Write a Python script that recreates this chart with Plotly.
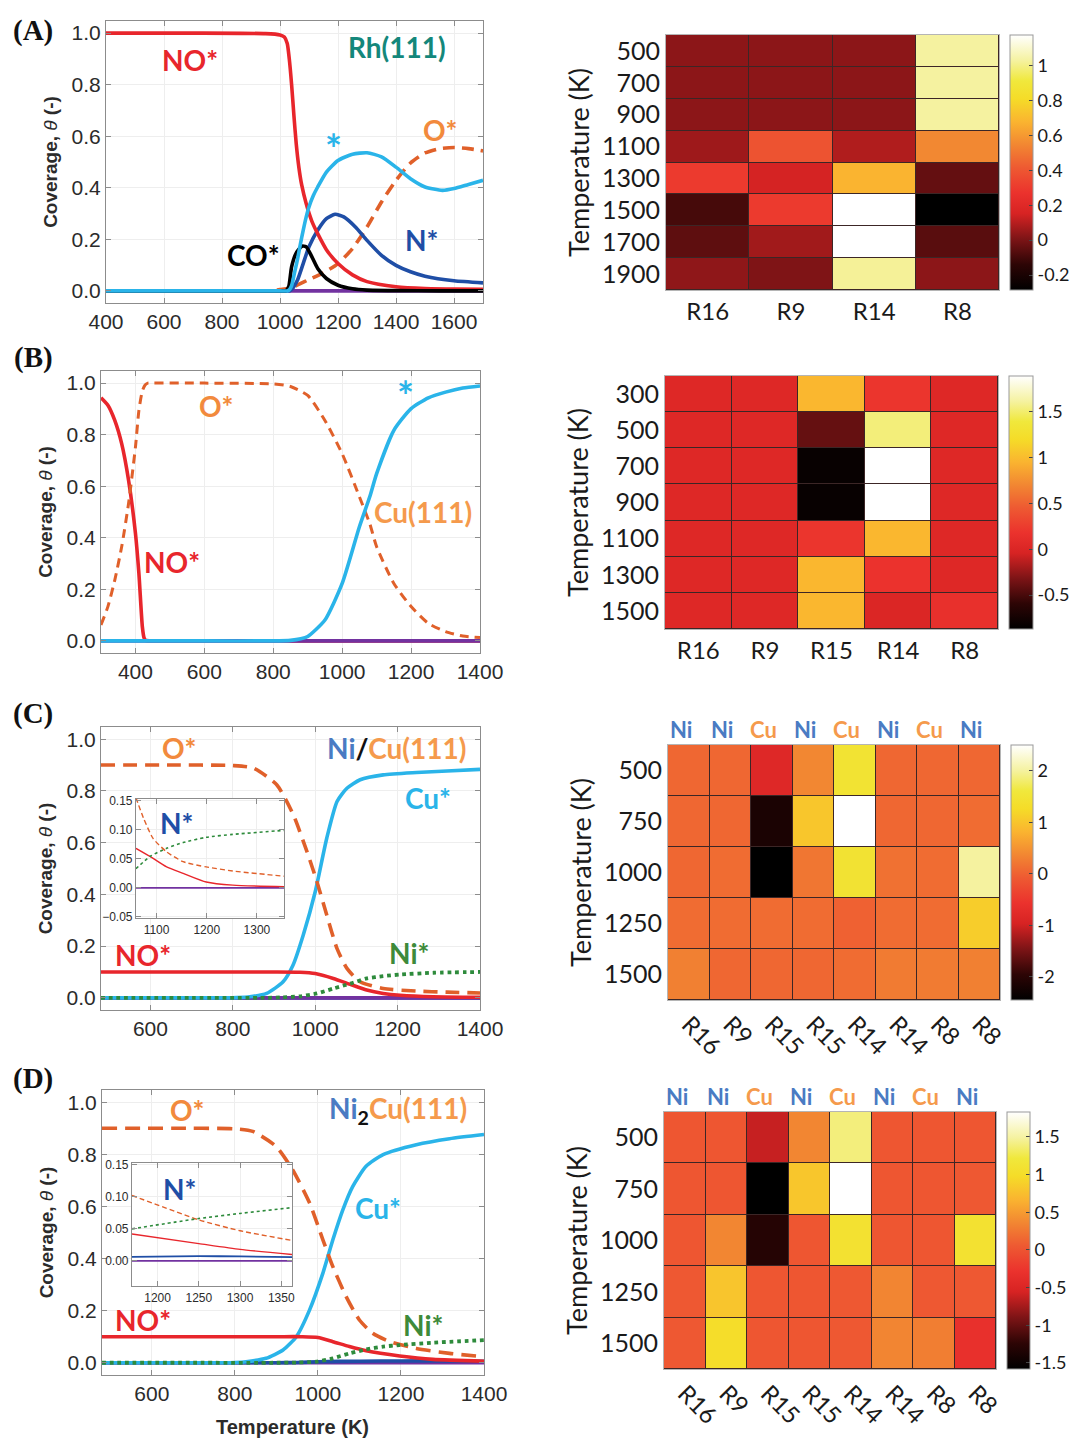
import plotly.graph_objects as go

W, H = 1070, 1438

# ---------------- DATA ----------------
# Panel A : Rh(111)
A_NO_T = [400, 700, 950, 1000, 1015, 1025, 1032, 1040, 1048, 1056, 1065, 1075, 1090, 1110, 1130, 1160, 1200, 1250, 1300, 1400, 1500, 1600, 1700]
A_NO = [1.0, 1.0, 0.998, 0.993, 0.985, 0.96, 0.9, 0.8, 0.68, 0.57, 0.48, 0.41, 0.34, 0.27, 0.222, 0.16, 0.106, 0.062, 0.036, 0.016, 0.009, 0.007, 0.006]
A_FREE_T = [400, 700, 1000, 1025, 1032, 1040, 1050, 1060, 1070, 1080, 1090, 1100, 1115, 1130, 1160, 1200, 1250, 1300, 1350, 1400, 1450, 1500, 1560, 1600, 1650, 1700]
A_FREE = [0, 0, 0, 0, 0.004, 0.02, 0.07, 0.12, 0.18, 0.235, 0.285, 0.326, 0.37, 0.403, 0.461, 0.506, 0.53, 0.536, 0.52, 0.48, 0.435, 0.403, 0.39, 0.397, 0.413, 0.429]
A_N_T = [400, 700, 1000, 1030, 1037, 1045, 1060, 1080, 1100, 1130, 1160, 1190, 1220, 1260, 1300, 1350, 1400, 1450, 1500, 1600, 1700]
A_N = [0, 0, 0, 0, 0.003, 0.012, 0.041, 0.106, 0.171, 0.235, 0.28, 0.297, 0.287, 0.248, 0.196, 0.138, 0.099, 0.074, 0.057, 0.039, 0.031]
A_CO_T = [400, 700, 1000, 1020, 1030, 1040, 1055, 1075, 1090, 1110, 1130, 1160, 1200, 1250, 1300, 1400, 1550, 1700]
A_CO = [0, 0, 0, 0, 0.016, 0.093, 0.145, 0.173, 0.171, 0.132, 0.087, 0.048, 0.022, 0.008, 0.003, 0.001, 0.0, 0.0]
A_O_T = [400, 700, 950, 980, 1000, 1040, 1100, 1150, 1200, 1250, 1300, 1350, 1400, 1450, 1500, 1550, 1600, 1650, 1700]
A_O = [0, 0, 0, 0.001, 0.005, 0.013, 0.044, 0.07, 0.106, 0.164, 0.248, 0.345, 0.429, 0.496, 0.535, 0.552, 0.556, 0.552, 0.543]
A_P_T = [400, 1700]
A_P = [0, 0]

# Panel B : Cu(111)
B_NO_T = [300, 320, 340, 360, 380, 400, 410, 420, 425, 430, 440, 500, 800, 1100, 1400]
B_NO = [0.943, 0.914, 0.855, 0.765, 0.623, 0.417, 0.262, 0.055, 0.012, 0.002, 0, 0, 0, 0, 0]
B_O_T = [300, 320, 340, 360, 380, 400, 410, 420, 428, 436, 450, 600, 800, 850, 900, 950, 1000, 1050, 1080, 1100, 1150, 1200, 1250, 1300, 1350, 1400]
B_O = [0.062, 0.133, 0.236, 0.365, 0.533, 0.752, 0.894, 0.97, 0.993, 1.0, 1.0, 1.0, 0.997, 0.987, 0.952, 0.855, 0.726, 0.559, 0.455, 0.365, 0.223, 0.133, 0.068, 0.036, 0.019, 0.013]
B_FREE_T = [300, 600, 800, 850, 880, 900, 950, 1000, 1050, 1080, 1100, 1150, 1200, 1250, 1300, 1350, 1400]
B_FREE = [0, 0, 0, 0.002, 0.008, 0.017, 0.081, 0.223, 0.443, 0.559, 0.649, 0.817, 0.901, 0.943, 0.965, 0.981, 0.989]
B_P_T = [300, 1400]
B_P = [0, 0]

# Panel C : Ni/Cu(111)
C_O_T = [480, 650, 800, 850, 907, 947, 980, 1004, 1028, 1053, 1077, 1109, 1165, 1246, 1320, 1400]
C_O = [0.9, 0.9, 0.898, 0.888, 0.823, 0.707, 0.565, 0.45, 0.32, 0.19, 0.114, 0.062, 0.036, 0.026, 0.022, 0.019]
C_CU_T = [480, 650, 780, 810, 841, 882, 922, 946, 971, 1000, 1028, 1053, 1077, 1109, 1165, 1246, 1320, 1400]
C_CU = [0, 0, 0, 0.001, 0.004, 0.017, 0.062, 0.126, 0.243, 0.41, 0.617, 0.759, 0.81, 0.843, 0.862, 0.871, 0.877, 0.883]
C_NO_T = [480, 700, 900, 963, 1000, 1044, 1085, 1125, 1165, 1206, 1287, 1400]
C_NO = [0.1, 0.1, 0.1, 0.099, 0.094, 0.075, 0.052, 0.03, 0.017, 0.01, 0.004, 0.002]
C_NI_T = [480, 700, 880, 920, 963, 1004, 1044, 1085, 1125, 1165, 1206, 1287, 1400]
C_NI = [0, 0, 0, 0.002, 0.006, 0.017, 0.036, 0.055, 0.075, 0.084, 0.09, 0.097, 0.1]
C_N_T = [480, 1400]
C_N = [0, 0]
C_P_T = [480, 1400]
C_P = [0, 0]
# inset C
CI_O_T = [1059, 1074, 1093, 1120, 1153, 1199, 1252, 1354]
CI_O = [0.155, 0.12, 0.085, 0.062, 0.045, 0.036, 0.029, 0.02]
CI_NO_T = [1059, 1087, 1120, 1153, 1199, 1252, 1354]
CI_NO = [0.068, 0.054, 0.036, 0.025, 0.01, 0.0046, 0.002]
CI_NI_T = [1059, 1087, 1120, 1153, 1199, 1252, 1354]
CI_NI = [0.033, 0.054, 0.068, 0.078, 0.087, 0.092, 0.099]
CI_P_T = [1059, 1354]
CI_P = [0, 0]

# Panel D : Ni2Cu(111)
D_O_T = [480, 650, 800, 843, 899, 939, 980, 1012, 1036, 1068, 1100, 1132, 1173, 1237, 1317, 1400]
D_O = [0.9, 0.9, 0.898, 0.888, 0.831, 0.741, 0.613, 0.472, 0.369, 0.254, 0.164, 0.113, 0.081, 0.055, 0.036, 0.023]
D_CU_T = [480, 650, 770, 800, 827, 875, 916, 948, 980, 1012, 1036, 1060, 1084, 1116, 1157, 1237, 1317, 1400]
D_CU = [0, 0, 0, 0.001, 0.004, 0.017, 0.049, 0.1, 0.203, 0.344, 0.472, 0.587, 0.677, 0.754, 0.799, 0.837, 0.86, 0.876]
D_NO_T = [480, 700, 900, 960, 1000, 1036, 1076, 1116, 1197, 1277, 1400]
D_NO = [0.1, 0.1, 0.1, 0.1, 0.097, 0.081, 0.062, 0.046, 0.026, 0.013, 0.006]
D_NI_T = [480, 700, 900, 950, 996, 1036, 1076, 1116, 1157, 1197, 1277, 1400]
D_NI = [0, 0, 0, 0.001, 0.004, 0.017, 0.036, 0.051, 0.062, 0.068, 0.077, 0.087]
D_N_T = [480, 700, 900, 950, 1000, 1100, 1200, 1300, 1400]
D_N = [0, 0, 0, 0.001, 0.004, 0.006, 0.007, 0.007, 0.006]
D_P_T = [480, 1400]
D_P = [0, 0]
# inset D
DI_O_T = [1169, 1250, 1300, 1363]
DI_O = [0.102, 0.064, 0.047, 0.032]
DI_NI_T = [1169, 1250, 1300, 1363]
DI_NI = [0.05, 0.066, 0.074, 0.083]
DI_NO_T = [1169, 1250, 1300, 1363]
DI_NO = [0.042, 0.027, 0.018, 0.01]
DI_N_T = [1169, 1250, 1300, 1363]
DI_N = [0.0065, 0.0075, 0.007, 0.006]
DI_P_T = [1169, 1363]
DI_P = [0.0, 0.0]

# Heatmaps
HA_ROWS = ["500", "700", "900", "1100", "1300", "1500", "1700", "1900"]
HA_COLS = ["R16", "R9", "R14", "R8"]
HA_Z = [
    [0.03, 0.03, 0.03, 1.03],
    [0.03, 0.03, 0.03, 1.03],
    [0.03, 0.03, 0.03, 1.03],
    [0.06, 0.39, 0.09, 0.55],
    [0.30, 0.15, 0.68, -0.04],
    [-0.095, 0.30, 1.18, -0.29],
    [-0.05, 0.065, 1.18, -0.06],
    [0.035, 0.01, 1.02, 0.03],
]
HA_RANGE = [-0.286, 1.176]
HA_TICKS = [-0.2, 0, 0.2, 0.4, 0.6, 0.8, 1]

HB_ROWS = ["300", "500", "700", "900", "1100", "1300", "1500"]
HB_COLS = ["R16", "R9", "R15", "R14", "R8"]
HB_Z = [
    [0.03, 0.03, 0.97, 0.2, 0.03],
    [0.03, 0.03, -0.4, 1.53, 0.03],
    [0.03, 0.03, -0.82, 1.89, 0.03],
    [0.03, 0.03, -0.82, 1.89, 0.03],
    [0.03, 0.03, 0.2, 0.97, 0.03],
    [0.03, 0.03, 0.97, 0.18, 0.03],
    [0.03, 0.03, 0.97, 0.0, 0.15],
]
HB_RANGE = [-0.87, 1.89]
HB_TICKS = [-0.5, 0, 0.5, 1, 1.5]

HC_ROWS = ["500", "750", "1000", "1250", "1500"]
HC_COLS = ["R16", "R9", "R15", "R15", "R14", "R14", "R8", "R8"]
HC_TOP = ["Ni", "Ni", "Cu", "Ni", "Cu", "Ni", "Cu", "Ni"]
HC_Z = [
    [0.05, 0.05, -0.82, 0.37, 1.46, 0.05, 0.05, 0.05],
    [0.05, 0.05, -2.15, 1.02, 2.5, 0.05, 0.05, 0.1],
    [0.05, 0.1, -2.45, 0.2, 1.45, 0.15, 0.1, 2.0],
    [0.1, 0.1, 0.1, 0.1, 0.0, 0.1, 0.1, 1.1],
    [0.3, 0.05, 0.05, 0.05, 0.1, 0.25, 0.25, 0.3],
]
HC_RANGE = [-2.45, 2.5]
HC_TICKS = [-2, -1, 0, 1, 2]

HD_ROWS = ["500", "750", "1000", "1250", "1500"]
HD_COLS = ["R16", "R9", "R15", "R15", "R14", "R14", "R8", "R8"]
HD_TOP = ["Ni", "Ni", "Cu", "Ni", "Cu", "Ni", "Cu", "Ni"]
HD_Z = [
    [0.02, 0.02, -0.62, 0.36, 1.39, 0.02, 0.02, 0.02],
    [0.02, 0.02, -1.58, 0.81, 1.83, 0.02, 0.02, 0.04],
    [0.02, 0.36, -1.3, 0.02, 1.08, 0.02, 0.02, 1.08],
    [0.04, 0.8, 0.02, 0.02, 0.04, 0.35, 0.04, 0.04],
    [0.04, 1.0, 0.02, 0.02, 0.04, 0.35, 0.3, -0.32],
]
HD_RANGE = [-1.58, 1.83]
HD_TICKS = [-1.5, -1, -0.5, 0, 0.5, 1, 1.5]

# ---------------- STYLE ----------------
RED = "#e8262c"
ORD = "#e0602a"
LBLUE = "#2ab4e9"
DBLUE = "#1f4ea6"
GREEN = "#2e8b3c"
PURPLE = "#7232a0"
LBL_O = "#f28a3d"
LBL_CU = "#f59a4c"
LBL_NI = "#4a7bc3"
TEAL = "#14877b"
LBL_GREEN = "#3e8a3a"

CS = [[0.0, "rgb(0,0,0)"], [0.1, "rgb(45,5,5)"], [0.2, "rgb(125,20,22)"], [0.3, "rgb(215,35,35)"],
      [0.38, "rgb(235,50,45)"], [0.48, "rgb(238,90,50)"], [0.57, "rgb(242,135,50)"],
      [0.66, "rgb(250,180,48)"], [0.75, "rgb(245,220,40)"], [0.82, "rgb(240,232,60)"],
      [0.9, "rgb(245,242,160)"], [1.0, "rgb(255,255,255)"]]

ANN_FONT = "Lato"
TICK_FONT = "Liberation Sans"
LW = 3.6


def dx(a, b):
    return [a / W, b / W]


def dy(top, bottom):
    return [1 - bottom / H, 1 - top / H]


fig = go.Figure()


def add_line(T, v, color, ax, width=LW, dash="solid"):
    fig.add_trace(go.Scatter(x=T, y=v, mode="lines",
                             line=dict(color=color, width=width, dash=dash, shape="spline", smoothing=0.6),
                             xaxis="x" + ax, yaxis="y" + ax, hoverinfo="skip", showlegend=False))


def add_heat(z, ax, ca):
    fig.add_trace(go.Heatmap(z=z, x=list(range(len(z[0]))), y=list(range(len(z))),
                             coloraxis=ca, xgap=1, ygap=1, xaxis="x" + ax, yaxis="y" + ax,
                             hoverinfo="skip"))


# Panel A line (axis 1)
add_line(A_P_T, A_P, PURPLE, "")
add_line(A_O_T, A_O, ORD, "", dash="12px,7px")
add_line(A_N_T, A_N, DBLUE, "")
add_line(A_NO_T, A_NO, RED, "")
add_line(A_CO_T, A_CO, "#000000", "")
add_line(A_FREE_T, A_FREE, LBLUE, "")
# Panel A heat (axis 2)
add_heat(HA_Z, "2", "coloraxis")
# Panel B line (axis 3)
add_line(B_NO_T, B_NO, RED, "3")
add_line(B_P_T, B_P, PURPLE, "3")
add_line(B_O_T, B_O, ORD, "3", width=3.0, dash="9px,6px")
add_line(B_FREE_T, B_FREE, LBLUE, "3")
# Panel B heat (axis 4)
add_heat(HB_Z, "4", "coloraxis2")
# Panel C line (axis 5)
add_line(C_N_T, C_N, DBLUE, "5")
add_line(C_P_T, C_P, PURPLE, "5")
add_line(C_CU_T, C_CU, LBLUE, "5")
add_line(C_NO_T, C_NO, RED, "5")
add_line(C_O_T, C_O, ORD, "5", dash="14px,8px")
add_line(C_NI_T, C_NI, GREEN, "5", width=3.8, dash="dot")
# inset C (axis 6)
add_line(CI_P_T, CI_P, PURPLE, "6", width=1.8)
add_line(CI_NO_T, CI_NO, RED, "6", width=1.4)
add_line(CI_O_T, CI_O, ORD, "6", width=1.4, dash="5px,3px")
add_line(CI_NI_T, CI_NI, GREEN, "6", width=1.6, dash="dot")
# Panel C heat (axis 7)
add_heat(HC_Z, "7", "coloraxis3")
# Panel D line (axis 8)
add_line(D_P_T, D_P, PURPLE, "8")
add_line(D_N_T, D_N, DBLUE, "8")
add_line(D_CU_T, D_CU, LBLUE, "8")
add_line(D_NO_T, D_NO, RED, "8")
add_line(D_O_T, D_O, ORD, "8", dash="15px,8px")
add_line(D_NI_T, D_NI, GREEN, "8", width=3.8, dash="dot")
# inset D (axis 9)
add_line(DI_P_T, DI_P, PURPLE, "9", width=1.8)
add_line(DI_N_T, DI_N, DBLUE, "9", width=1.8)
add_line(DI_NO_T, DI_NO, RED, "9", width=1.4)
add_line(DI_O_T, DI_O, ORD, "9", width=1.4, dash="5px,3px")
add_line(DI_NI_T, DI_NI, GREEN, "9", width=1.6, dash="dot")
# Panel D heat (axis 10)
add_heat(HD_Z, "10", "coloraxis4")


def line_x(domain, rng, tickvals, size=21):
    return dict(domain=domain, range=rng, tickvals=tickvals, showline=True, linecolor="#8c8c8c",
                linewidth=1.2, mirror="ticks", ticks="inside", ticklen=5, tickcolor="#8c8c8c",
                showgrid=True, gridcolor="#eeeeee", zeroline=False, automargin=False,
                tickfont=dict(family=TICK_FONT, size=size, color="#2b2b2b"))


def line_y(domain, rng, tickvals, fmt=".1f", size=21, title=True):
    d = dict(domain=domain, range=rng, tickvals=tickvals, tickformat=fmt, showline=True,
             linecolor="#8c8c8c", linewidth=1.2, mirror="ticks", ticks="inside", ticklen=5,
             tickcolor="#8c8c8c", showgrid=True, gridcolor="#eeeeee", zeroline=False,
             automargin=False, tickfont=dict(family=TICK_FONT, size=size, color="#2b2b2b"))
    if title:
        d["title"] = dict(text="<b>Coverage, </b><i>θ</i><b> (-)</b>",
                          font=dict(family=TICK_FONT, size=19, color="#2b2b2b"), standoff=8)
    return d


def heat_x(domain, cols, angle=0):
    return dict(domain=domain, range=[-0.5, len(cols) - 0.5], tickvals=list(range(len(cols))),
                ticktext=cols, tickangle=angle, showline=True, linecolor="#b5b5b5", mirror=True,
                ticks="", showgrid=False, zeroline=False, automargin=False,
                tickfont=dict(family=ANN_FONT, size=24, color="#1a1a1a"))


def heat_y(domain, rows):
    return dict(domain=domain, range=[len(rows) - 0.5, -0.5], tickvals=list(range(len(rows))),
                ticktext=rows, showline=True, linecolor="#b5b5b5", mirror=True, ticks="",
                showgrid=False, zeroline=False, automargin=False,
                tickfont=dict(family=ANN_FONT, size=25, color="#1a1a1a"),
                title=dict(text="Temperature (K)", font=dict(family=ANN_FONT, size=27, color="#1a1a1a"),
                           standoff=4))


def cax(rng, ticks, top, bottom, left, right):
    return dict(cmin=rng[0], cmax=rng[1], colorscale=CS,
                colorbar=dict(x=left / W, xanchor="left", xpad=0, y=1 - (top + bottom) / 2 / H,
                              yanchor="middle", len=(bottom - top) / H, lenmode="fraction", ypad=0,
                              thickness=right - left, thicknessmode="pixels",
                              outlinecolor="#999999", outlinewidth=1, ticks="inside", ticklen=4,
                              tickcolor="#444444", tickvals=ticks,
                              ticktext=[("%g" % t) for t in ticks],
                              tickfont=dict(family=ANN_FONT, size=18, color="#1a1a1a")))


fig.update_layout(
    width=W, height=H, margin=dict(l=0, r=0, t=0, b=0, autoexpand=False), paper_bgcolor="white",
    plot_bgcolor="white", showlegend=False,
    xaxis=line_x(dx(106, 483), [400, 1700], [400, 600, 800, 1000, 1200, 1400, 1600]),
    yaxis=line_y(dy(21, 303), [-0.047, 1.047], [0, 0.2, 0.4, 0.6, 0.8, 1.0]),
    xaxis2=heat_x(dx(666, 999), HA_COLS),
    yaxis2=heat_y(dy(35, 290), HA_ROWS),
    xaxis3=line_x(dx(101, 480), [300, 1400], [400, 600, 800, 1000, 1200, 1400]),
    yaxis3=line_y(dy(371, 653), [-0.047, 1.047], [0, 0.2, 0.4, 0.6, 0.8, 1.0]),
    xaxis4=heat_x(dx(665, 998), HB_COLS),
    yaxis4=heat_y(dy(376, 629), HB_ROWS),
    xaxis5=line_x(dx(101, 480), [480, 1400], [600, 800, 1000, 1200, 1400]),
    yaxis5=line_y(dy(727, 1010), [-0.047, 1.047], [0, 0.2, 0.4, 0.6, 0.8, 1.0]),
    xaxis6=line_x(dx(136, 284), [1059, 1354], [1100, 1200, 1300], size=12),
    yaxis6=line_y(dy(799, 918), [-0.052, 0.153], [-0.05, 0, 0.05, 0.1, 0.15], fmt=".2f", size=12, title=False),
    xaxis7=heat_x(dx(668, 1000), HC_COLS, angle=45),
    yaxis7=heat_y(dy(745, 1000), HC_ROWS),
    xaxis8=line_x(dx(102, 484), [480, 1400], [600, 800, 1000, 1200, 1400]),
    yaxis8=line_y(dy(1090, 1375), [-0.047, 1.047], [0, 0.2, 0.4, 0.6, 0.8, 1.0]),
    xaxis9=line_x(dx(132, 292), [1169, 1363], [1200, 1250, 1300, 1350], size=12),
    yaxis9=line_y(dy(1163, 1286), [-0.039, 0.1525], [0, 0.05, 0.1, 0.15], fmt=".2f", size=12, title=False),
    xaxis10=heat_x(dx(664, 996), HD_COLS, angle=45),
    yaxis10=heat_y(dy(1112, 1369), HD_ROWS),
    coloraxis=cax(HA_RANGE, HA_TICKS, 35, 290, 1010, 1033),
    coloraxis2=cax(HB_RANGE, HB_TICKS, 376, 629, 1009, 1033),
    coloraxis3=cax(HC_RANGE, HC_TICKS, 745, 1000, 1011, 1033),
    coloraxis4=cax(HD_RANGE, HD_TICKS, 1112, 1369, 1007, 1030),
)

# anchor axes pairs
for i in ["", "2", "3", "4", "5", "6", "7", "8", "9", "10"]:
    fig.layout["xaxis" + i].anchor = "y" + i
    fig.layout["yaxis" + i].anchor = "x" + i

# dark background under heatmaps -> cell borders
for i in ["2", "4", "7", "10"]:
    fig.add_shape(type="rect", xref="x" + i + " domain", yref="y" + i + " domain",
                  x0=0, x1=1, y0=0, y1=1, fillcolor="#3c2626", line=dict(width=0), layer="below")

ann = []


def lab(text, x, y, ax, color, size=28):
    ann.append(dict(text="<b>" + text + "</b>", x=x, y=y, xref="x" + ax, yref="y" + ax,
                    xanchor="center", yanchor="middle",
                    showarrow=False, font=dict(family=ANN_FONT, size=size, color=color)))


# Panel A labels
lab("NO*", 690, 0.895, "", RED)
lab("Rh(111)", 1402, 0.947, "", TEAL)
lab("*", 1183, 0.55, "", LBLUE, size=40)
lab("O*", 1552, 0.624, "", LBL_O)
lab("N*", 1488, 0.198, "", DBLUE)
lab("CO*", 908, 0.14, "", "#000000")
# Panel B labels
lab("O*", 636, 0.913, "3", LBL_O)
lab("*", 1183, 0.95, "3", LBLUE, size=40)
lab("Cu(111)", 1236, 0.5, "3", LBL_CU)
lab("NO*", 506, 0.307, "3", RED)
# Panel C labels
lab("O*", 671, 0.965, "5", LBL_O)
ann.append(dict(text="<b><span style='color:%s'>Ni</span>/<span style='color:%s'>Cu(111)</span></b>" % (LBL_NI, LBL_CU),
                x=1198, y=0.965, xref="x5", yref="y5", showarrow=False, xanchor="center",
                font=dict(family=ANN_FONT, size=28, color="#111111")))
lab("Cu*", 1274, 0.772, "5", LBLUE)
lab("NO*", 582, 0.165, "5", RED)
lab("Ni*", 1228, 0.172, "5", LBL_GREEN)
lab("N*", 1140, 0.111, "6", DBLUE)
# Panel D labels
lab("O*", 687, 0.972, "8", LBL_O)
ann.append(dict(text="<b><span style='color:%s'>Ni</span><sub>2</sub><span style='color:%s'>Cu(111)</span></b>" % (LBL_NI, LBL_CU),
                x=1193, y=0.972, xref="x8", yref="y8", showarrow=False, xanchor="center",
                font=dict(family=ANN_FONT, size=28, color="#111111")))
lab("Cu*", 1145, 0.594, "8", LBLUE)
lab("NO*", 578, 0.165, "8", RED)
lab("Ni*", 1253, 0.145, "8", LBL_GREEN)
lab("N*", 1227, 0.112, "9", DBLUE)

# top metal labels on heatmaps C and D
for ax, tops in [("7", HC_TOP), ("10", HD_TOP)]:
    for i, t in enumerate(tops):
        ann.append(dict(text="<b>" + t + "</b>", x=i, y=1, xref="x" + ax, yref="y" + ax + " domain",
                        xanchor="center", yanchor="bottom", xshift=-8, yshift=0, showarrow=False,
                        font=dict(family=ANN_FONT, size=22, color=LBL_NI if t == "Ni" else LBL_CU)))

# panel letters
for t, yy in [("(A)", 31), ("(B)", 358), ("(C)", 713), ("(D)", 1078)]:
    ann.append(dict(text="<b>" + t + "</b>", x=33 / W, y=1 - yy / H, xref="paper", yref="paper",
                    xanchor="center", yanchor="middle",
                    showarrow=False, font=dict(family="Liberation Serif", size=29, color="#111111")))

# bottom x title
ann.append(dict(text="<b>Temperature (K)</b>", x=292 / W, y=1 - 1427 / H, xref="paper", yref="paper",
                xanchor="center", yanchor="middle",
                showarrow=False, font=dict(family=TICK_FONT, size=20, color="#2b2b2b")))

fig.update_layout(annotations=ann)
fig.write_html("out.html")
